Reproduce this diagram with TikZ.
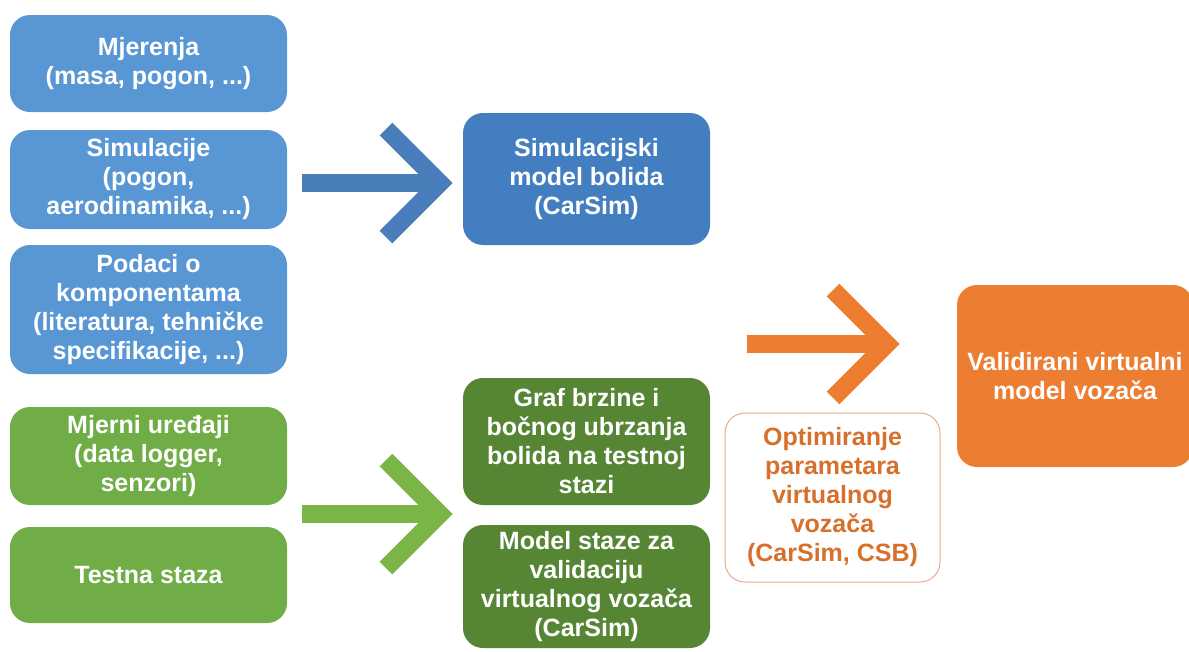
\documentclass[tikz,border=0pt]{standalone}
\usepackage{fontspec}
\setmainfont{Liberation Sans}
\usepackage{tikz}

\definecolor{boxblue}{RGB}{88,151,212}
\definecolor{deepblue}{RGB}{66,126,192}
\definecolor{arrowblue}{RGB}{74,126,187}
\definecolor{boxgreen}{RGB}{112,173,71}
\definecolor{deepgreen}{RGB}{86,134,52}
\definecolor{arrowgreen}{RGB}{122,181,72}
\definecolor{boxorange}{RGB}{237,125,49}
\definecolor{textorange}{RGB}{214,112,44}
\definecolor{lineorange}{RGB}{232,172,140}

\begin{document}
\begin{tikzpicture}[x=1pt, y=-1pt,
  every node/.style={font=\bfseries\fontsize{25}{29}\selectfont, align=center, text=white, inner sep=0pt},
  blk/.style={rounded corners=20pt, minimum width=277pt},
  midblk/.style={rounded corners=20pt, minimum width=247pt},
  bigarrow/.style={line width=18pt, line join=miter}]
  \useasboundingbox (0,0) rectangle (1189,651);
  % ulazni podaci
  \node[blk, fill=boxblue, minimum height=97pt] (mjer) at (148.5,63.5) {Mjerenja\\(masa, pogon, ...)};
  \node[blk, fill=boxblue, minimum height=99pt] (simul) at (148.5,179.5) {Simulacije\\(pogon,\\aerodinamika, ...)};
  \node[blk, fill=boxblue, minimum height=129pt] (podaci) at (148.5,309.5) {Podaci o\\komponentama\\(literatura, tehničke\\specifikacije, ...)};
  \node[blk, fill=boxgreen, minimum height=98pt] (uredj) at (148.5,456) {Mjerni uređaji\\(data logger,\\senzori)};
  \node[blk, fill=boxgreen, minimum height=96pt] (staza) at (148.5,575) {Testna staza};
  % modeli
  \node[midblk, fill=deepblue, minimum height=132pt] (simmodel) at (586.5,179) {Simulacijski\\model bolida\\(CarSim)};
  \node[midblk, fill=deepgreen, minimum height=127pt] (graf) at (586.5,441.5) {Graf brzine i\\bočnog ubrzanja\\bolida na testnoj\\stazi};
  \node[midblk, fill=deepgreen, minimum height=123pt] (modstaze) at (586.5,586.5) {Model staze za\\validaciju\\virtualnog vozača\\(CarSim)};
  \node[rounded corners=20pt, draw=lineorange, line width=1pt, fill=white, text=textorange, minimum width=215pt, minimum height=169pt] (optim) at (832.5,497.5) {Optimiranje\\parametara\\virtualnog\\vozača\\(CarSim, CSB)};
  \node[rounded corners=20pt, fill=boxorange, minimum width=236pt, minimum height=182pt] (valid) at (1075,376) {Validirani virtualni\\model vozača};
  % strelice
  \coordinate (bluetail) at (302,183);
  \coordinate (bluetip) at (440,183);
  \draw[bigarrow, arrowblue] (bluetail) -- (bluetip);
  \draw[bigarrow, arrowblue] (bluetip) ++(-54,-54) -- (bluetip) -- ++(-54,54);
  \coordinate (greentail) at (302,514);
  \coordinate (greentip) at (440,514);
  \draw[bigarrow, arrowgreen] (greentail) -- (greentip);
  \draw[bigarrow, arrowgreen] (greentip) ++(-54,-54) -- (greentip) -- ++(-54,54);
  \coordinate (orangetail) at (747,344);
  \coordinate (orangetip) at (887,344);
  \draw[bigarrow, boxorange] (orangetail) -- (orangetip);
  \draw[bigarrow, boxorange] (orangetip) ++(-54,-54) -- (orangetip) -- ++(-54,54);
\end{tikzpicture}
\end{document}
